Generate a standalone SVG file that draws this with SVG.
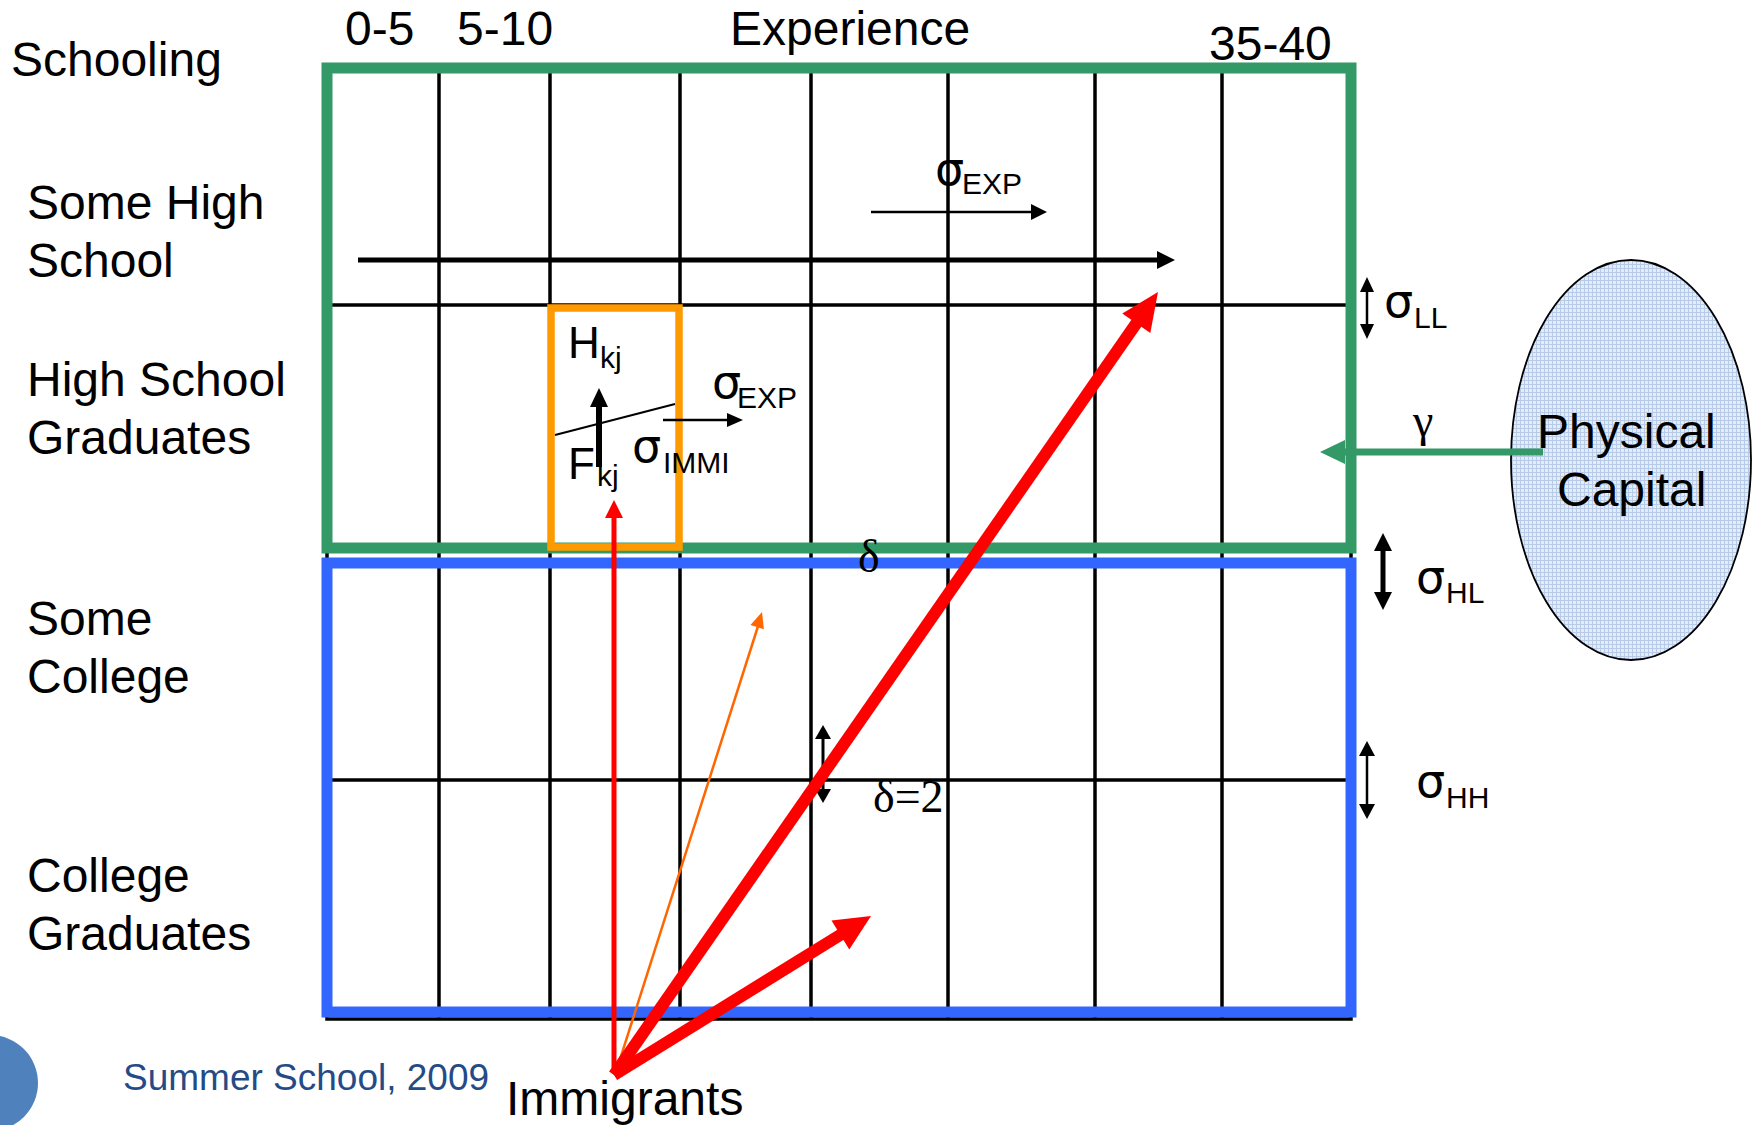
<svg xmlns="http://www.w3.org/2000/svg" width="1754" height="1125" viewBox="0 0 1754 1125">
<style>
.lbl{font-family:"Liberation Sans",Arial,sans-serif;font-size:48px;fill:#000}
.sym{font-family:"Liberation Sans",Arial,sans-serif;font-size:44px;fill:#000}
.sig{font-family:"DejaVu Sans","Liberation Sans",sans-serif;font-size:46px;fill:#000}
.grk{font-family:"Liberation Serif","Times New Roman",serif;font-size:46px;fill:#000}
.sub{font-family:"Liberation Sans",Arial,sans-serif;font-size:30px;fill:#000}
.grid{stroke:#000;stroke-width:3.5;fill:none}
.thin{stroke:#000;stroke-width:2.5;fill:none}
.blk{fill:#000}
.red{fill:#FF0000}
</style>
<defs>
<pattern id="dots" width="4" height="4" patternUnits="userSpaceOnUse">
<rect width="4" height="4" fill="#e4ecf8"/>
<rect width="4" height="1" fill="#b7cbe9"/>
<rect width="1" height="4" fill="#b7cbe9"/>
</pattern>
</defs>
<rect width="1754" height="1125" fill="#fff"/>

<g id="grid">
<rect x="327" y="68" width="1024" height="951" class="grid"/>
<line x1="439" y1="68" x2="439" y2="1019" class="grid"/>
<line x1="550" y1="68" x2="550" y2="1019" class="grid"/>
<line x1="680" y1="68" x2="680" y2="1019" class="grid"/>
<line x1="811" y1="68" x2="811" y2="1019" class="grid"/>
<line x1="948" y1="68" x2="948" y2="1019" class="grid"/>
<line x1="1095" y1="68" x2="1095" y2="1019" class="grid"/>
<line x1="1222" y1="68" x2="1222" y2="1019" class="grid"/>
<line x1="327" y1="305" x2="1351" y2="305" class="grid"/>
<line x1="327" y1="780" x2="1351" y2="780" class="grid"/>
</g>

<g id="low-skill-box">
<rect x="327" y="68" width="1024" height="480" fill="none" stroke="#339966" stroke-width="11"/>
</g>
<g id="high-skill-box">
<rect x="327" y="563" width="1024" height="449" fill="none" stroke="#3366FF" stroke-width="11"/>
</g>
<g id="cell-box">
<rect x="551" y="308" width="128" height="239" fill="none" stroke="#FF9900" stroke-width="7.5"/>
</g>

<g id="physical-capital">
<ellipse cx="1631" cy="460" rx="120" ry="200" fill="url(#dots)" stroke="#000" stroke-width="1.8"/>
<text x="1537" y="448" class="lbl">Physical</text>
<text x="1557" y="506" class="lbl">Capital</text>
</g>

<g id="labels">
<text x="11" y="76" class="lbl">Schooling</text>
<text x="27" y="219" class="lbl">Some High</text>
<text x="27" y="277" class="lbl">School</text>
<text x="27" y="396" class="lbl">High School</text>
<text x="27" y="454" class="lbl">Graduates</text>
<text x="27" y="635" class="lbl">Some</text>
<text x="27" y="693" class="lbl">College</text>
<text x="27" y="892" class="lbl">College</text>
<text x="27" y="950" class="lbl">Graduates</text>
<text x="345" y="45" class="lbl">0-5</text>
<text x="457" y="45" class="lbl">5-10</text>
<text x="730" y="45" class="lbl">Experience</text>
<text x="1209" y="60" class="lbl">35-40</text>
<text x="506" y="1115" class="lbl">Immigrants</text>
<text x="123" y="1090" font-family="Liberation Sans, Arial, sans-serif" font-size="37" fill="#254B87">Summer School, 2009</text>
</g>

<g id="symbols">
<text x="935" y="185" class="sig">σ</text><text x="962" y="194" class="sub">EXP</text>
<text x="568" y="358" class="sym">H</text><text x="600" y="368" class="sub">kj</text>
<text x="568" y="479" class="sym">F</text><text x="597" y="486" class="sub">kj</text>
<text x="712" y="398" class="sig">σ</text><text x="737" y="408" class="sub">EXP</text>
<text x="632" y="462" class="sig">σ</text><text x="663" y="473" class="sub">IMMI</text>
<text x="1384" y="317" class="sig">σ</text><text x="1414" y="328" class="sub">LL</text>
<text x="1416" y="593" class="sig">σ</text><text x="1446" y="603" class="sub">HL</text>
<text x="1416" y="797" class="sig">σ</text><text x="1446" y="808" class="sub">HH</text>
<text x="1413" y="436" class="grk">γ</text>
<text x="858" y="572" class="grk">δ</text>
<text x="873" y="812" class="grk">δ=2</text>
</g>

<g id="connectors">
<line x1="358" y1="260" x2="1160" y2="260" stroke="#000" stroke-width="5"/>
<polygon points="1175,260 1157,251 1157,269" class="blk"/>
<line x1="871" y1="212" x2="1033" y2="212" class="thin"/>
<polygon points="1047,212 1031,204 1031,220" class="blk"/>
<line x1="663" y1="420" x2="729" y2="420" class="thin"/>
<polygon points="743,420 727,413 727,427" class="blk"/>
<line x1="555" y1="435" x2="675" y2="404" stroke="#000" stroke-width="2"/>
<line x1="599" y1="467" x2="599" y2="402" stroke="#000" stroke-width="6"/>
<polygon points="599,388 590,407 608,407" class="blk"/>
<line x1="1367" y1="290" x2="1367" y2="326" class="thin"/>
<polygon points="1367,277 1360,292 1374,292" class="blk"/>
<polygon points="1367,339 1360,324 1374,324" class="blk"/>
<line x1="1383" y1="548" x2="1383" y2="595" stroke="#000" stroke-width="5"/>
<polygon points="1383,533 1374,551 1392,551" class="blk"/>
<polygon points="1383,610 1374,592 1392,592" class="blk"/>
<line x1="1367" y1="754" x2="1367" y2="806" class="thin"/>
<polygon points="1367,741 1359,756 1375,756" class="blk"/>
<polygon points="1367,819 1359,804 1375,804" class="blk"/>
<line x1="823" y1="737" x2="823" y2="791" stroke="#000" stroke-width="3"/>
<polygon points="823,725 815,739 831,739" class="blk"/>
<polygon points="823,803 815,789 831,789" class="blk"/>
<line x1="1543" y1="452" x2="1342" y2="452" stroke="#339966" stroke-width="7"/>
<polygon points="1320,452 1345,440 1345,464" fill="#339966"/>
<line x1="615" y1="1075" x2="760" y2="620" stroke="#FF6600" stroke-width="2.5"/>
<polygon points="762,612 750.5,625.1 763.9,629.3" fill="#FF6600"/>
<line x1="614" y1="1068" x2="614" y2="514" stroke="#FF0000" stroke-width="5"/>
<polygon points="614,500 605,518 623,518" class="red"/>
<line x1="614" y1="1075" x2="1140" y2="318" stroke="#FF0000" stroke-width="12"/>
<polygon points="1158,292 1122.3,313.5 1150.3,332.9" class="red"/>
<line x1="614" y1="1075" x2="845" y2="932" stroke="#FF0000" stroke-width="12"/>
<polygon points="871,916 831.5,920.4 849.3,949.4" class="red"/>
</g>

<g id="corner-mark">
<circle cx="-10" cy="1083" r="48" fill="#4F81BD"/>
</g>
</svg>
